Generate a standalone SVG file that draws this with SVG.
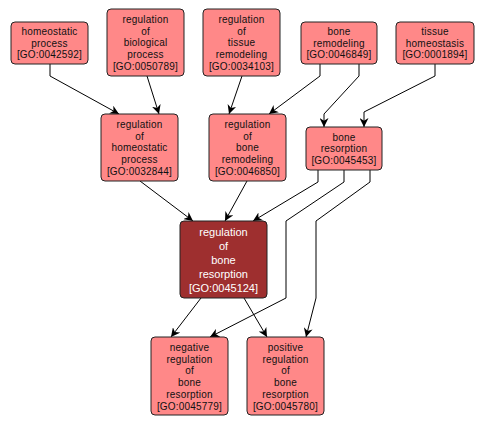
<svg xmlns="http://www.w3.org/2000/svg" width="486" height="426" viewBox="0 0 486 426">
<style>
.n rect{fill:#ff8888;stroke:#222;stroke-width:1}
.n text{font-family:"Liberation Sans",Arial,sans-serif;font-size:10px;letter-spacing:0.2px;fill:#111;text-anchor:middle;dominant-baseline:central}
.d rect{fill:#9e2f2f;stroke:#222;stroke-width:1}
.d text{font-family:"Liberation Sans",Arial,sans-serif;font-size:11px;fill:#fff;text-anchor:middle;dominant-baseline:central}
.e path{fill:none;stroke:#000;stroke-width:1;marker-end:url(#ah)}
</style>
<defs>
<marker id="ah" markerUnits="userSpaceOnUse" viewBox="0 0 10 10" refX="10" refY="5" markerWidth="9" markerHeight="9" orient="auto">
<path d="M0,0 L10,5 L0,10 L3,5 z" fill="#000"/>
</marker>
</defs>
<rect width="486" height="426" fill="#fff"/>
<g id="edges" class="e">
<path d="M50,64 L50,76 L119,114"/>
<path d="M147,76 L159,114"/>
<path d="M242,76 L229,114"/>
<path d="M320,64 L320,76 L269,114"/>
<path d="M359,64 L359,76 L324,114 L324,127"/>
<path d="M435,64 L435,76 L364,112 L364,127"/>
<path d="M140,181 L193,221"/>
<path d="M247,181 L225,221"/>
<path d="M318,170 L318,182 L253,221"/>
<path d="M344,170 L344,182 L286,221 L286,298 L210,337"/>
<path d="M370,170 L370,182 L316,221 L316,298 L306,337"/>
<path d="M201,298 L171,337"/>
<path d="M244,298 L267,337"/>
</g>
<g id="GO0042592" class="n"><rect x="11" y="22" width="77" height="42" rx="4"/>
<text x="49.5" y="31.5">homeostatic</text><text x="49.5" y="43">process</text><text x="49.5" y="54.5">[GO:0042592]</text></g>
<g id="GO0050789" class="n"><rect x="107" y="9" width="77" height="67" rx="4"/>
<text x="145.5" y="19.5">regulation</text><text x="145.5" y="31.2">of</text><text x="145.5" y="42.9">biological</text><text x="145.5" y="54.6">process</text><text x="145.5" y="66.3">[GO:0050789]</text></g>
<g id="GO0034103" class="n"><rect x="203" y="9" width="77" height="67" rx="4"/>
<text x="241.5" y="19.5">regulation</text><text x="241.5" y="31.2">of</text><text x="241.5" y="42.9">tissue</text><text x="241.5" y="54.6">remodeling</text><text x="241.5" y="66.3">[GO:0034103]</text></g>
<g id="GO0046849" class="n"><rect x="301" y="22" width="76" height="42" rx="4"/>
<text x="339" y="31.5">bone</text><text x="339" y="43">remodeling</text><text x="339" y="54.5">[GO:0046849]</text></g>
<g id="GO0001894" class="n"><rect x="396" y="22" width="78" height="42" rx="4"/>
<text x="435" y="31.5">tissue</text><text x="435" y="43">homeostasis</text><text x="435" y="54.5">[GO:0001894]</text></g>
<g id="GO0032844" class="n"><rect x="101" y="114" width="77" height="67" rx="4"/>
<text x="139.5" y="124.5">regulation</text><text x="139.5" y="136.2">of</text><text x="139.5" y="147.9">homeostatic</text><text x="139.5" y="159.6">process</text><text x="139.5" y="171.3">[GO:0032844]</text></g>
<g id="GO0046850" class="n"><rect x="209" y="114" width="77" height="67" rx="4"/>
<text x="247.5" y="124.5">regulation</text><text x="247.5" y="136.2">of</text><text x="247.5" y="147.9">bone</text><text x="247.5" y="159.6">remodeling</text><text x="247.5" y="171.3">[GO:0046850]</text></g>
<g id="GO0045453" class="n"><rect x="306" y="127" width="76" height="43" rx="4"/>
<text x="344" y="137">bone</text><text x="344" y="148.5">resorption</text><text x="344" y="160">[GO:0045453]</text></g>
<g id="GO0045124" class="d"><rect x="180" y="221" width="87" height="77" rx="4"/>
<text x="223.5" y="231.5">regulation</text><text x="223.5" y="245.5">of</text><text x="223.5" y="259.5">bone</text><text x="223.5" y="273.5">resorption</text><text x="223.5" y="287.5">[GO:0045124]</text></g>
<g id="GO0045779" class="n"><rect x="151" y="337" width="77" height="78" rx="4"/>
<text x="189.5" y="347">negative</text><text x="189.5" y="359">regulation</text><text x="189.5" y="370.5">of</text><text x="189.5" y="382.5">bone</text><text x="189.5" y="394.5">resorption</text><text x="189.5" y="406.5">[GO:0045779]</text></g>
<g id="GO0045780" class="n"><rect x="247" y="337" width="77" height="78" rx="4"/>
<text x="285.5" y="347">positive</text><text x="285.5" y="359">regulation</text><text x="285.5" y="370.5">of</text><text x="285.5" y="382.5">bone</text><text x="285.5" y="394.5">resorption</text><text x="285.5" y="406.5">[GO:0045780]</text></g>
</svg>
